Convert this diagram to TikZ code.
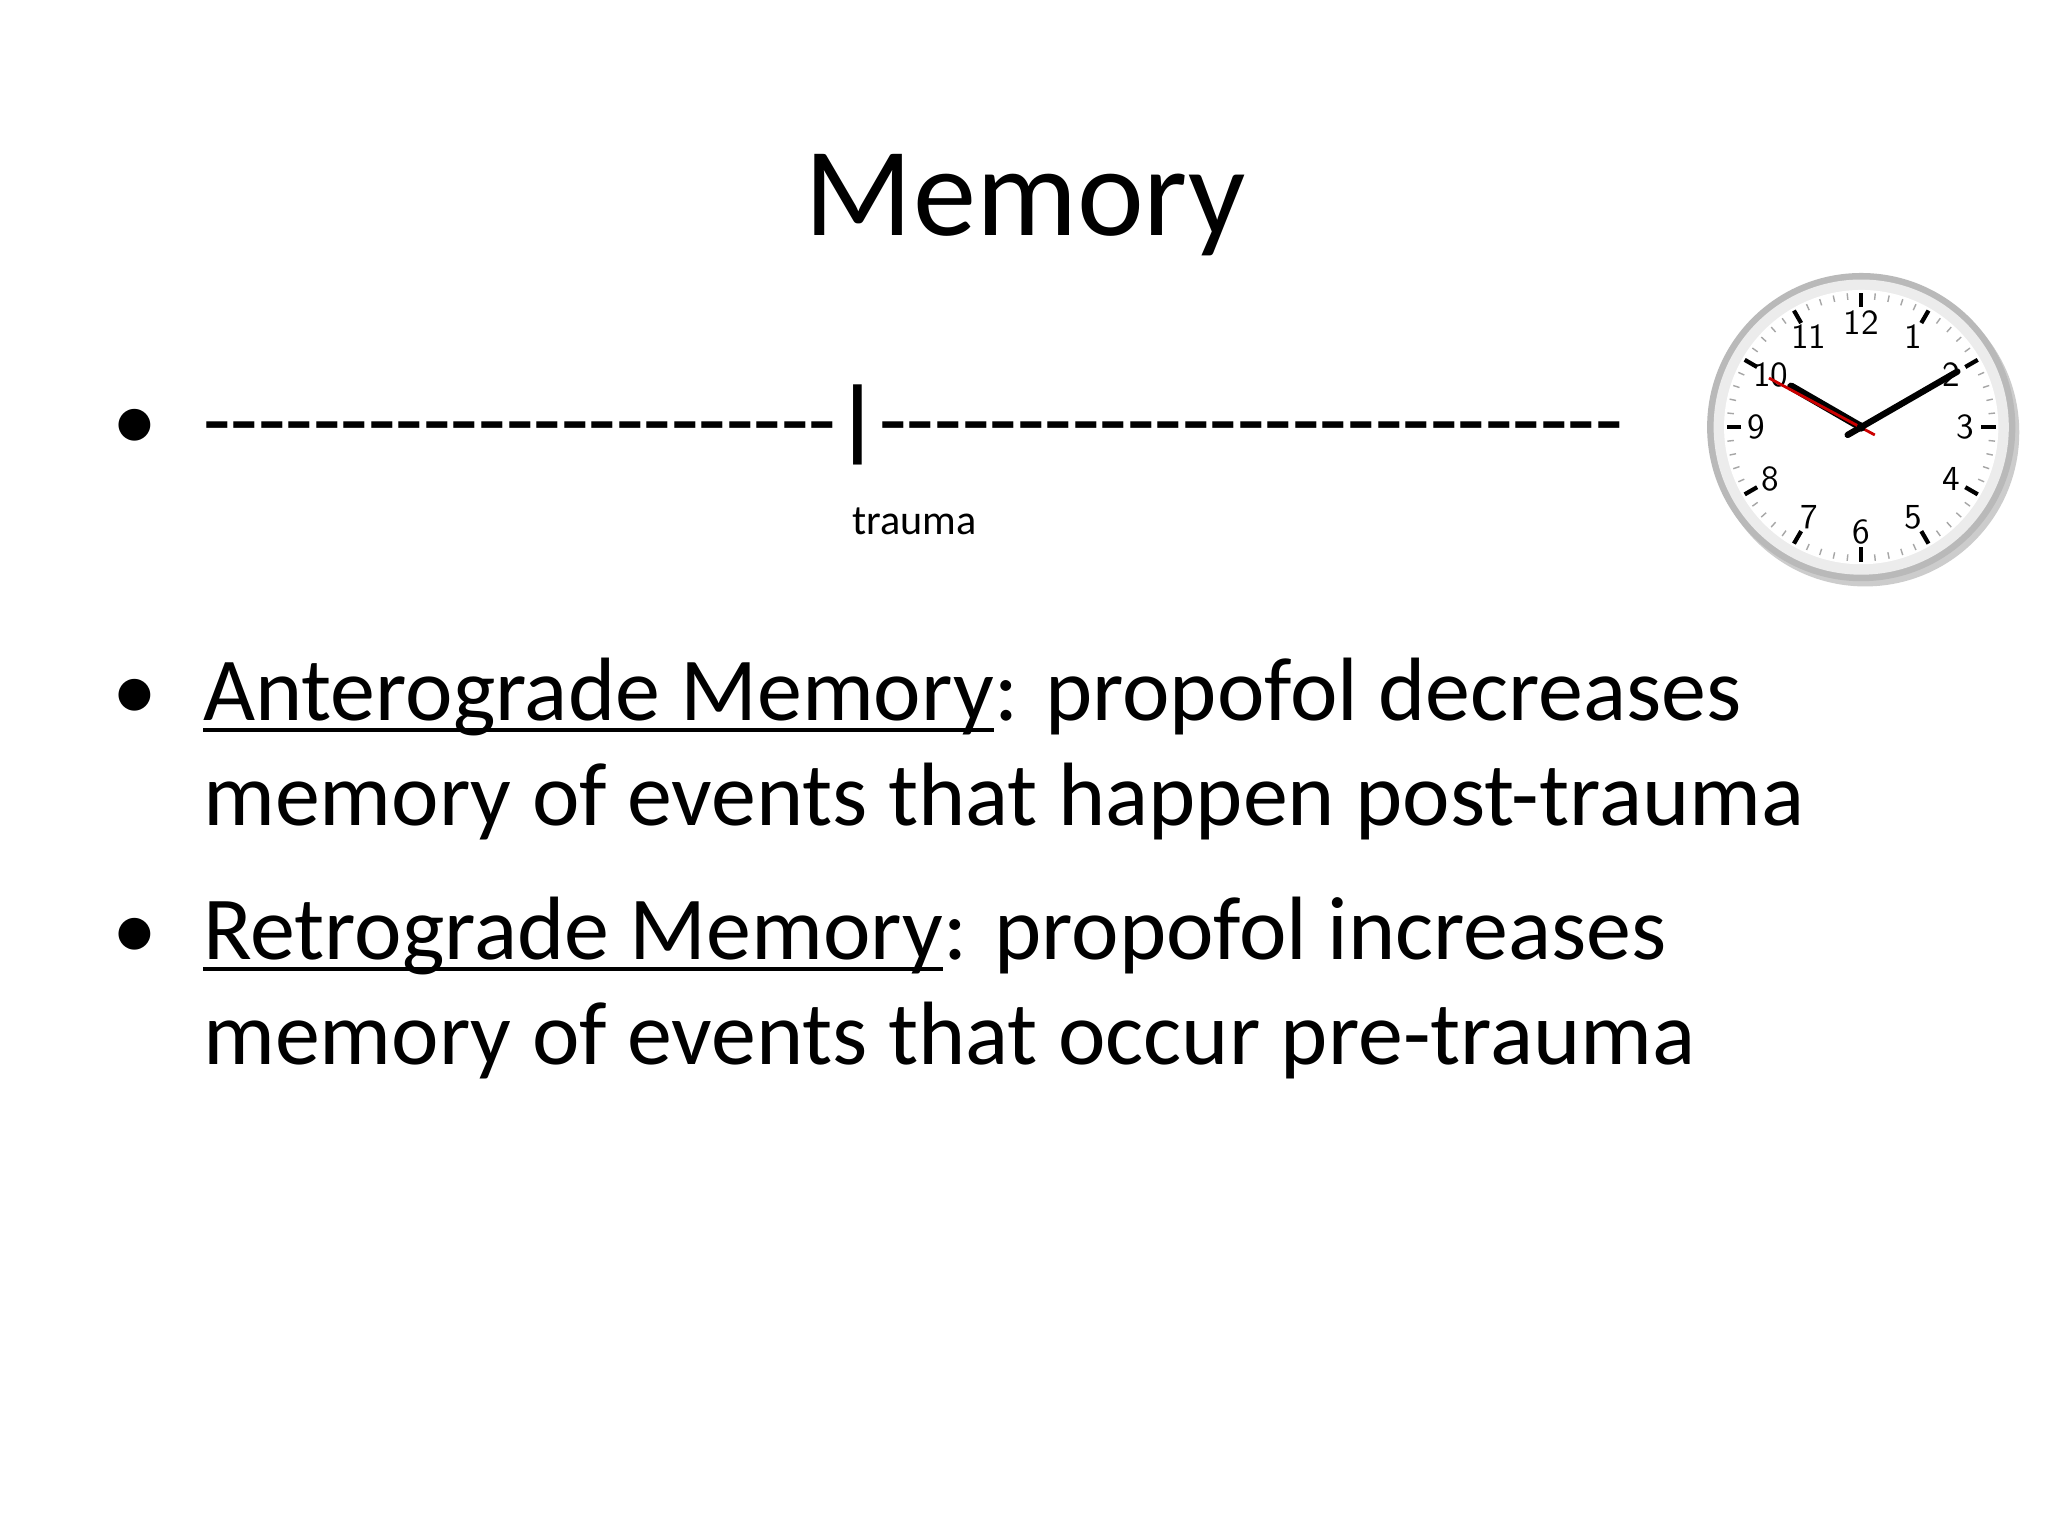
\documentclass[tikz,border=0pt]{standalone}
\usepackage{fontspec}
\usetikzlibrary{calc}
\setmainfont{Carlito}
\newcommand\myul[1]{\setbox0\hbox{#1}\rlap{\rule[-3pt]{\wd0}{1.1pt}}\box0}
\newcommand\dsh{{-}}
\begin{document}
\begin{tikzpicture}[x=0.013061cm,y=-0.013061cm,
  body/.style={anchor=base west,font=\fontsize{25.6}{32}\selectfont,inner sep=0pt},
  bul/.style={anchor=base,font=\fontsize{25.6}{32}\selectfont,inner sep=0pt},
  num/.style={font=\fontsize{10}{11}\selectfont\sffamily,inner sep=0pt}]
\useasboundingbox[fill=white] (0,0) rectangle (1568,1176);
\node[anchor=base,font=\fontsize{36}{42}\selectfont,inner sep=0pt] (title) at (785,180) {Memory};
\node[bul] (b1) at (103,345) {•};
\node[body] (line) at (155,345) {\dsh\dsh\dsh\dsh\dsh\dsh\dsh\dsh\dsh\dsh\dsh\dsh\dsh\dsh\dsh\dsh\dsh\dsh\dsh\dsh\dsh\dsh\dsh\textbf{|}\dsh\dsh\dsh\dsh\dsh\dsh\dsh\dsh\dsh\dsh\dsh\dsh\dsh\dsh\dsh\dsh\dsh\dsh\dsh\dsh\dsh\dsh\dsh\dsh\dsh\dsh\dsh};
\node[anchor=base,font=\fontsize{12}{14}\selectfont,inner sep=0pt] (tr) at (700,409) {trauma};
\node[bul] (b2) at (103,552) {•};
\node[body] (l1) at (155,552) {\myul{Anterograde Memory}: propofol decreases};
\node[body] (l2) at (155,632) {memory of events that happen post-trauma};
\node[bul] (b3) at (103,735) {•};
\node[body] (l3) at (155,735) {\myul{Retrograde Memory}: propofol increases};
\node[body] (l4) at (155,815) {memory of events that occur pre-trauma};
% clock
\coordinate (c) at (1425,327);
\fill[gray!40] ($(c)+(3,4)$) circle (118);
\fill[gray!55] (c) circle (118);
\fill[gray!15] (c) circle (113);
\fill[white] (c) circle (105);
\foreach \a in {0,6,...,354}{
  \draw[gray!70,line width=0.4pt] ($(c)+(\a:98)$) -- ($(c)+(\a:103)$);}
\foreach \a in {0,30,...,330}{
  \draw[black,line width=1.2pt] ($(c)+(\a:92)$) -- ($(c)+(\a:103)$);}
\foreach \n in {1,...,12}{
  \node[num] (n\n) at ($(c)+({30*\n-90}:80)$) {\n};}
\draw[black,line width=1.8pt,line cap=round] ($(c)+(150:12)$) -- ($(c)+(-30:85)$);
\draw[black,line width=2.3pt,line cap=round] (c) -- ($(c)+(210:62)$);
\draw[red!80!black,line width=0.8pt] ($(c)+(30:12)$) -- ($(c)+(208:80)$);
\fill[black] (c) circle (3.5);
\end{tikzpicture}
\end{document}
